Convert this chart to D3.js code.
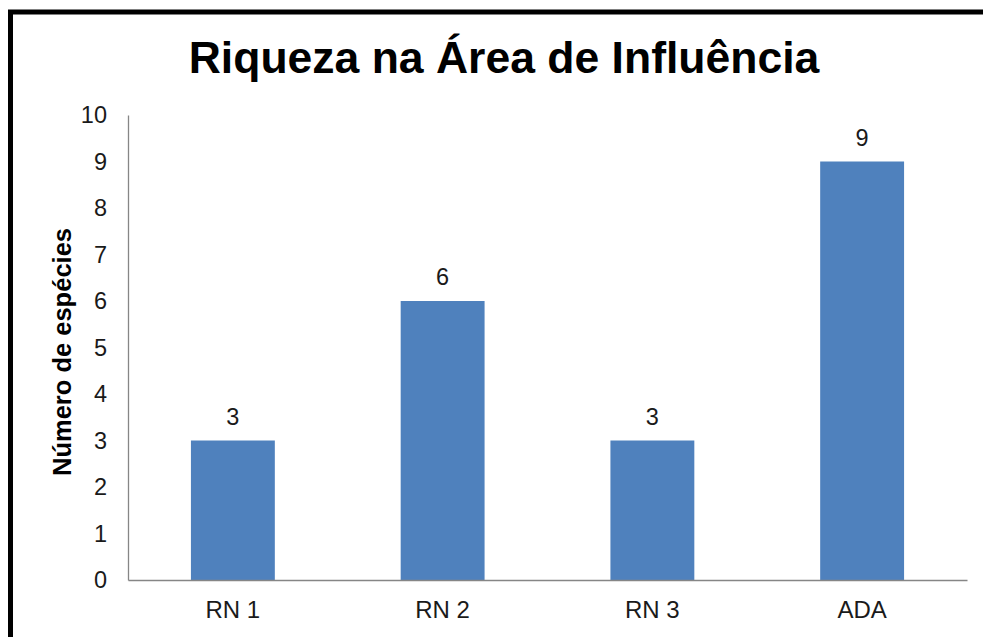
<!DOCTYPE html>
<html>
<head>
<meta charset="utf-8">
<script src="https://cdn.jsdelivr.net/npm/d3@7"></script>
<style>
  html, body { margin: 0; padding: 0; background: #fff; overflow: hidden; }
  svg { display: block; }
  text { font-family: "Liberation Sans", Arial, sans-serif; }
</style>
</head>
<body>
<script>
const categories = ["RN 1", "RN 2", "RN 3", "ADA"];
const values = [3, 6, 3, 9];
const yTicks = [0, 1, 2, 3, 4, 5, 6, 7, 8, 9, 10];
const title = "Riqueza na Área de Influência";
const yTitle = "Número de espécies";

const W = 983, H = 637;
const plot = { left: 128, right: 967, top: 115, bottom: 580 };
const FONT = "'Liberation Sans', Arial, sans-serif";

const svg = d3.select("body").append("svg").attr("width", W).attr("height", H);

// outer frame (runs off the right and bottom edges)
svg.append("rect")
  .attr("x", 10.5).attr("y", 12)
  .attr("width", W + 20).attr("height", H + 20)
  .attr("fill", "#fff").attr("stroke", "#000").attr("stroke-width", 5);

const x = d3.scaleBand().domain(categories)
  .range([plot.left, plot.right]).paddingInner(0.6).paddingOuter(0.3);
const y = d3.scaleLinear().domain([0, 10]).range([plot.bottom, plot.top]);

// title
svg.append("text")
  .attr("x", 504).attr("y", 73)
  .attr("text-anchor", "middle")
  .attr("font-size", 44.5).attr("font-weight", "bold").attr("fill", "#000")
  .text(title);

// bars
svg.append("g").selectAll("rect").data(values).join("rect")
  .attr("x", (d, i) => x(categories[i]))
  .attr("width", x.bandwidth())
  .attr("y", d => y(d))
  .attr("height", d => y(0) - y(d))
  .attr("fill", "#4F81BD");

// value labels
svg.append("g").selectAll("text").data(values).join("text")
  .attr("x", (d, i) => x(categories[i]) + x.bandwidth() / 2)
  .attr("y", d => y(d) - 16)
  .attr("text-anchor", "middle")
  .attr("font-size", 23.5).attr("fill", "#1a1a1a")
  .text(d => d);

// y axis
const yAxis = d3.axisLeft(y).tickValues(yTicks).tickSize(0).tickPadding(21);
const gy = svg.append("g").attr("transform", `translate(${plot.left},0)`).call(yAxis);
gy.attr("font-size", 23.5).attr("font-family", FONT);
gy.select(".domain").attr("stroke", "#868686").attr("stroke-width", 1.3);
gy.selectAll("text").attr("fill", "#1a1a1a");

// x axis
const xAxis = d3.axisBottom(x).tickSize(0).tickPadding(21);
const gx = svg.append("g").attr("transform", `translate(0,${plot.bottom})`).call(xAxis);
gx.attr("font-size", 24).attr("font-family", FONT);
gx.select(".domain").attr("stroke", "#868686").attr("stroke-width", 1.3);
gx.selectAll("text").attr("fill", "#1a1a1a");

// y axis title
svg.append("text")
  .attr("transform", `translate(71,${352}) rotate(-90)`)
  .attr("text-anchor", "middle")
  .attr("font-size", 25.5).attr("font-weight", "bold").attr("fill", "#000")
  .text(yTitle);
</script>
</body>
</html>
